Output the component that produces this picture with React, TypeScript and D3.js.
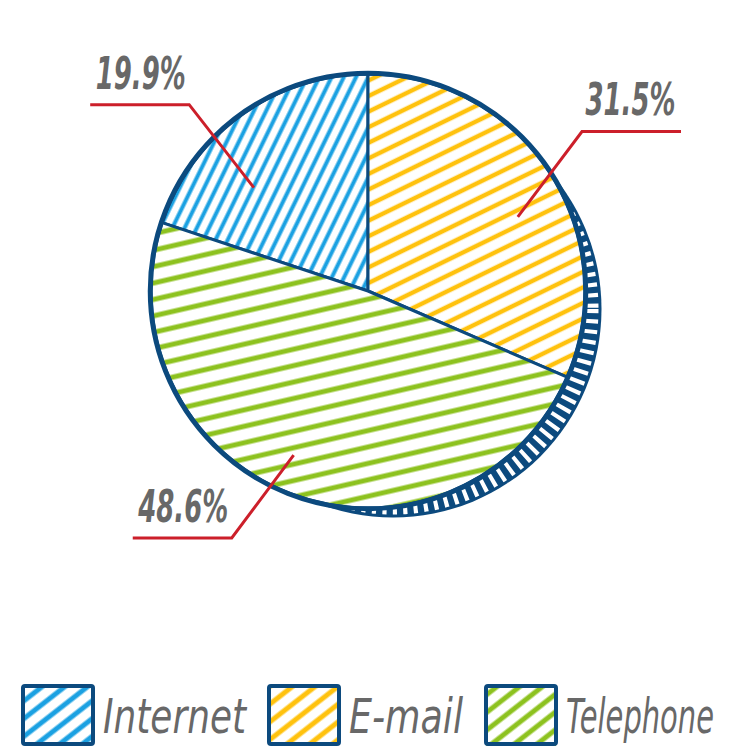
import React from 'react';
import * as d3 from 'd3';

// chart data
const categories = ['Internet', 'E-mail', 'Telephone'];
const shares = [19.9, 31.5, 48.6];
const sliceLabels = ['19.9%', '31.5%', '48.6%'];
const colors = ['#1ba1e2', '#ffc20e', '#8dc21f'];

// hatch looks per slice: [angle deg, spacing, stroke width]
const hatch = [
  [64, 11, 4],
  [26, 14, 4.5],
  [13, 16, 5],
];

// leader line tweaks (deg offset / radius fraction)
const leaderInner = [[-12, 0.71], [7, 0.77], [3.5, 0.83]];
const leaderElbow = [[-8, 1.19], [-3.4, 1.23], [8, 1.3]];

const legendTextWidth = [143, 114, 148];

const W = 731;
const H = 747;
const cx = 368;
const cy = 291;
const R = 217;
const navy = '#0c4a7e';
const gray = '#686868';
const red = '#cc1f2a';
const labelFont = '"Liberation Sans Narrow", "DejaVu Sans Condensed", sans-serif';

// 3d rim: offset circle to the lower right
const rimDx = 25;
const rimDy = 18;
const rimR = 208.5;

const rad = (deg: number) => (deg * Math.PI) / 180;
const polar = (a: number, r: number): [number, number] => [cx + r * Math.sin(a), cy - r * Math.cos(a)];

const App = () => {
  const total = d3.sum(shares);
  const start = (-2 * Math.PI * shares[0]) / total;
  const pie = d3.pie<number>().sort(null).startAngle(start).endAngle(start + 2 * Math.PI);
  const arcs = pie(shares);
  const arc = d3.arc<d3.PieArcDatum<number>>().innerRadius(0).outerRadius(R);

  // legend layout
  let lx = 23;
  const legend = categories.map((c, i) => {
    const item = { x: lx, tx: lx + 80, c, i };
    lx = lx + 80 + legendTextWidth[i] + 23;
    return item;
  });

  return (
    <svg width={W} height={H} style={{ position: 'absolute', left: 0, top: 0 }}>
      <defs>
        {colors.map((col, i) => (
          <pattern
            key={i}
            id={`hatch${i}`}
            patternUnits="userSpaceOnUse"
            width={hatch[i][1]}
            height={hatch[i][1]}
            patternTransform={`rotate(${-hatch[i][0]})`}
          >
            <rect width={hatch[i][1]} height={hatch[i][1]} fill="#fff" />
            <line x1={-1} x2={hatch[i][1] + 1} y1={hatch[i][1] / 2} y2={hatch[i][1] / 2} stroke={col} strokeWidth={hatch[i][2]} />
          </pattern>
        ))}
        {colors.map((col, i) => (
          <pattern key={'l' + i} id={`lhatch${i}`} patternUnits="userSpaceOnUse" width={14} height={14} patternTransform="rotate(-38)">
            <rect width={14} height={14} fill="#fff" />
            <line x1={-1} x2={15} y1={7} y2={7} stroke={col} strokeWidth={5} strokeLinecap="round" />
          </pattern>
        ))}
        {legend.map((d) => (
          <clipPath key={d.i} id={`lclip${d.i}`}>
            <rect x={d.x} y={686} width={70} height={60} />
          </clipPath>
        ))}
      </defs>

      {/* depth rim */}
      <circle cx={cx + rimDx} cy={cy + rimDy} r={rimR} fill={navy} />
      <circle
        cx={cx + rimDx}
        cy={cy + rimDy}
        r={rimR - 15}
        fill="none"
        stroke="#fff"
        strokeWidth={24}
        strokeDasharray="4 6"
      />
      <circle cx={cx} cy={cy} r={R + 1.5} fill="#fff" stroke={navy} strokeWidth={3.5} />

      {arcs.map((a, i) => (
        <path key={i} transform={`translate(${cx},${cy})`} d={arc(a) || ''} fill={`url(#hatch${i})`} stroke={navy} strokeWidth={3} strokeLinejoin="round" />
      ))}
      <circle cx={cx} cy={cy} r={R} fill="none" stroke={navy} strokeWidth={3.5} />

      {/* leader lines + labels */}
      {arcs.map((a, i) => {
        const mid = (a.startAngle + a.endAngle) / 2;
        const p1 = polar(mid + rad(leaderInner[i][0]), R * leaderInner[i][1]);
        const p2 = polar(mid + rad(leaderElbow[i][0]), R * leaderElbow[i][1]);
        const dir = p2[0] < cx ? -1 : 1;
        const p3: [number, number] = [p2[0] + dir * 99, p2[1]];
        const tx = (p2[0] + p3[0]) / 2 + dir * -1;
        return (
          <g key={i}>
            <polyline points={[p1, p2, p3].map((p) => p.join(',')).join(' ')} fill="none" stroke={red} strokeWidth={3} />
            <text
              x={tx}
              y={p2[1] - 16}
              textAnchor="middle"
              fontFamily={labelFont}
              fontStyle="italic"
              fontWeight="bold"
              fontSize={44}
              fill={gray}
              textLength={90}
              lengthAdjust="spacingAndGlyphs"
            >
              {sliceLabels[i]}
            </text>
          </g>
        );
      })}

      {/* legend */}
      {legend.map((d) => (
        <g key={d.i}>
          <rect x={d.x} y={686} width={70} height={60} fill={`url(#lhatch${d.i})`} clipPath={`url(#lclip${d.i})`} />
          <rect x={d.x} y={686} width={70} height={58} fill="none" stroke={navy} strokeWidth={4} rx={2} />
          <text
            x={d.tx}
            y={733}
            fontFamily={labelFont}
            fontStyle="italic"
            fontSize={48}
            fill={gray}
            textLength={legendTextWidth[d.i]}
            lengthAdjust="spacingAndGlyphs"
          >
            {d.c}
          </text>
        </g>
      ))}
    </svg>
  );
};

export default App;
